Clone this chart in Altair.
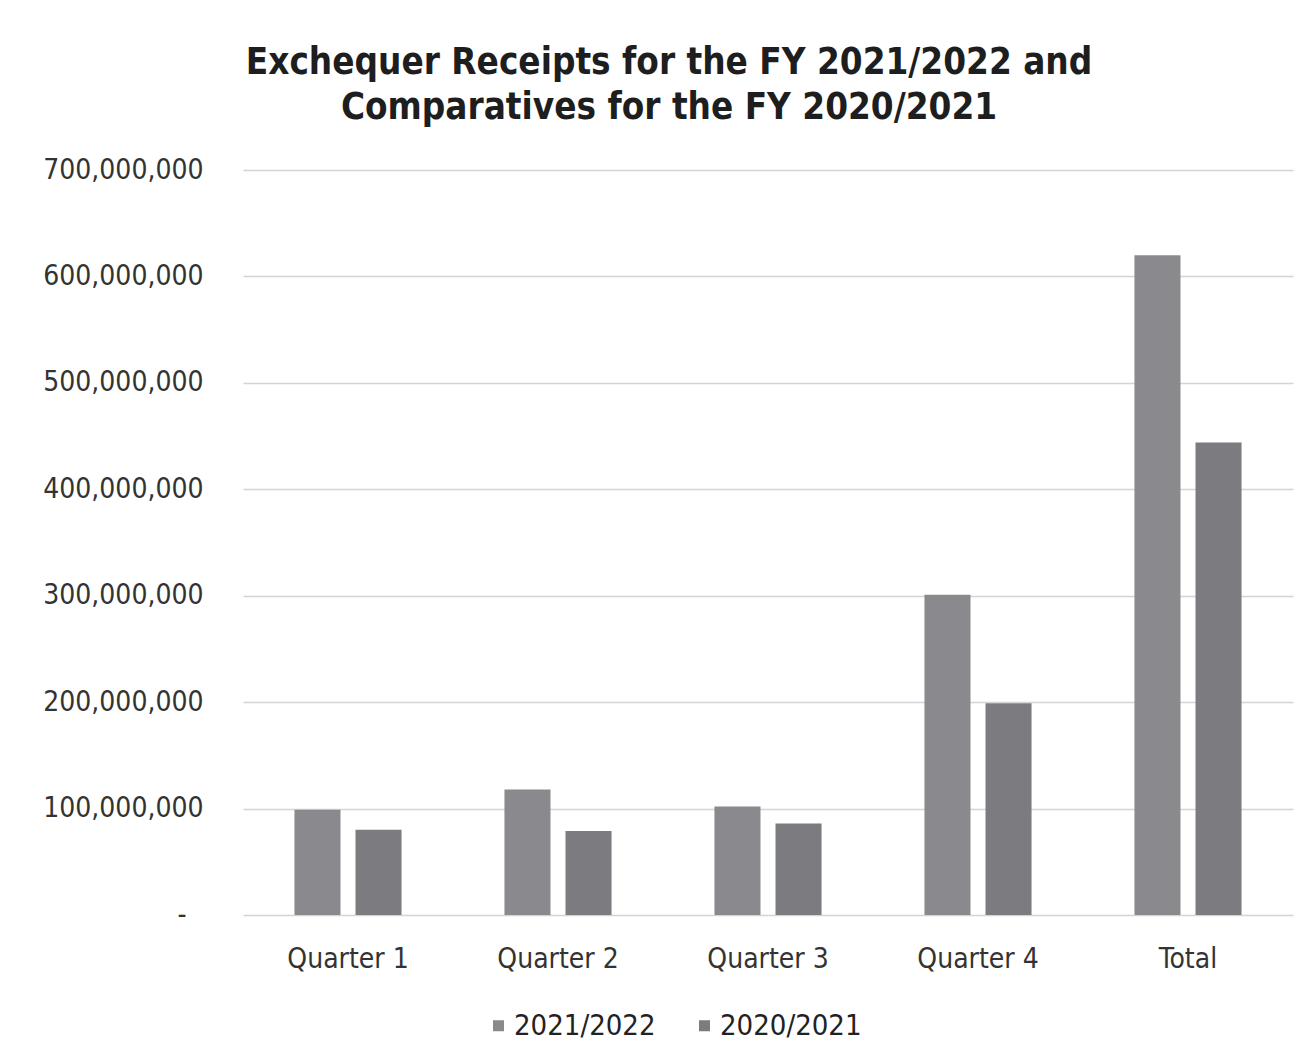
import altair as alt
import pandas as pd

categories = ["Quarter 1", "Quarter 2", "Quarter 3", "Quarter 4", "Total"]
fy_2021_2022 = [99_000_000, 118_000_000, 102_000_000, 301_000_000, 620_000_000]
fy_2020_2021 = [80_000_000, 79_000_000, 86_000_000, 199_000_000, 444_000_000]
series = ["2021/2022", "2020/2021"]
colors = ["#8a8a8e", "#7b7b80"]

rows = []
for c, a, b in zip(categories, fy_2021_2022, fy_2020_2021):
    rows.append({"Category": c, "Year": series[0], "Value": a})
    rows.append({"Category": c, "Year": series[1], "Value": b})
df = pd.DataFrame(rows)

FONT = "DejaVu Sans Condensed"

chart = alt.Chart(df).mark_bar().encode(
    x=alt.X("Category:N", sort=categories, title=None,
            scale=alt.Scale(paddingInner=0.49, paddingOuter=0.245),
            axis=alt.Axis(labelAngle=0, labelFontSize=28, labelFont=FONT,
                          labelColor="#333333", labelPadding=30, ticks=False,
                          domain=False, grid=False)),
    xOffset=alt.XOffset("Year:N", sort=series,
                        scale=alt.Scale(paddingInner=0.246, paddingOuter=0)),
    y=alt.Y("Value:Q", title=None,
            scale=alt.Scale(domain=[0, 700_000_000], nice=False),
            axis=alt.Axis(values=[i * 100_000_000 for i in range(8)],
                          labelExpr="datum.value == 0 ? '-' : format(datum.value, ',')",
                          labelFontSize=28, labelFont=FONT, labelColor="#333333",
                          labelPadding={"condition": {"test": "datum.value == 0", "value": 57},
                                        "value": 40},
                          ticks=False, domain=False,
                          gridColor="#d4d4d8", gridWidth=1.5)),
    color=alt.Color("Year:N", sort=series,
                    scale=alt.Scale(domain=series, range=colors),
                    legend=alt.Legend(title=None, orient="none", direction="horizontal",
                                      legendX=241, legendY=841,
                                      symbolType="square", symbolSize=121,
                                      symbolStrokeWidth=0,
                                      labelFontSize=29, labelFont=FONT,
                                      labelColor="#222222", columnPadding=34,
                                      symbolOffset=0, labelOffset=1)),
).properties(
    width=1050,
    height=745,
    padding={"left": 243, "top": 170, "right": 22, "bottom": 149},
    autosize=alt.AutoSizeParams(type="none"),
    background="white",
    title=alt.TitleParams(
        text=["Exchequer Receipts for the FY 2021/2022 and",
              "Comparatives for the FY 2020/2021"],
        font=FONT, fontSize=36.5, fontWeight="bold", color="#1e1e1e",
        anchor="middle", dx=-99, offset=30, lineHeight=45),
).configure_view(strokeWidth=0, stroke="transparent")

chart.save("out.html", embed_options={"renderer": "svg", "actions": False})
